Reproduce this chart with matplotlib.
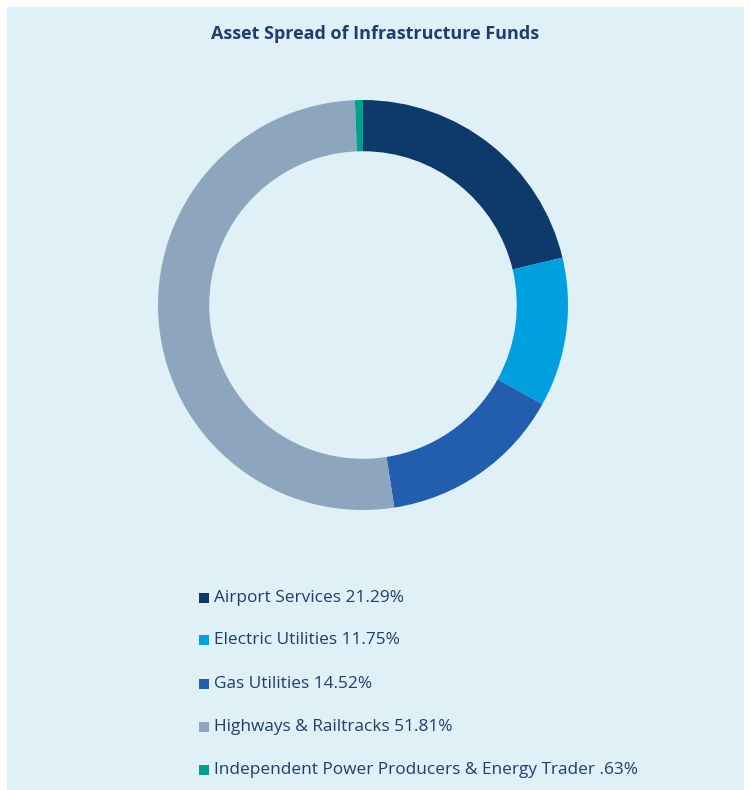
import matplotlib
matplotlib.use('Agg')
import matplotlib.pyplot as plt
from matplotlib.patches import Rectangle

# data
categories = ['Airport Services', 'Electric Utilities', 'Gas Utilities',
              'Highways & Railtracks', 'Independent Power Producers & Energy Trader']
shares = [21.29, 11.75, 14.52, 51.81, 0.63]
share_labels = ['21.29%', '11.75%', '14.52%', '51.81%', '.63%']
colors = ['#0E3A6B', '#00A0E0', '#225EAD', '#8EA5BE', '#00A08A']

W, H = 750, 790
fig = plt.figure(figsize=(W / 100, H / 100), dpi=100, facecolor='white')

# light blue panel (behind everything)
fig.patches.append(Rectangle((7 / W, 0), 737 / W, 783 / H, transform=fig.transFigure,
                             facecolor='#DFF0F7', edgecolor='none', zorder=-10))

text_color = '#1F3D6E'
fig.text(375 / W, 1 - 34 / H, 'Asset Spread of Infrastructure Funds', ha='center', va='center',
         fontsize=13, fontweight='bold', color=text_color, family='Open Sans')

# donut
cx, cy, r = 363, 305, 205
ax = fig.add_axes([(cx - r) / W, 1 - (cy + r) / H, 2 * r / W, 2 * r / H])
ax.patch.set_visible(False)
ax.pie(shares, colors=colors, startangle=90, counterclock=False, radius=1,
       wedgeprops=dict(width=0.25, edgecolor='none'))
ax.set_xlim(-1, 1)
ax.set_ylim(-1, 1)
ax.set_aspect('equal')
ax.axis('off')

# legend
row_y = [598, 640, 684, 727, 770]
for name, lab, col, y in zip(categories, share_labels, colors, row_y):
    fig.patches.append(Rectangle((199 / W, 1 - (y + 5) / H), 10 / W, 10 / H,
                                 transform=fig.transFigure, facecolor=col, edgecolor='none'))
    fig.text(214 / W, 1 - y / H, f'{name} {lab}', ha='left', va='center',
             fontsize=12.4, color=text_color, family='Open Sans')

fig.savefig('out.png', dpi=100, facecolor=fig.get_facecolor())
